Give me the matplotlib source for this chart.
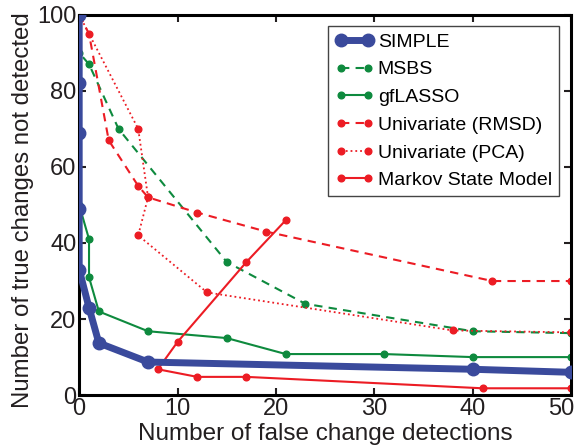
import matplotlib
matplotlib.use("Agg")
import matplotlib.pyplot as plt
import matplotlib.transforms as mtransforms

plt.rcParams['font.family'] = ['Liberation Sans', 'DejaVu Sans']

# Detection trade-off curves (x: false change detections, y: true changes missed)
simple_x = [0, 0, 0, 0, 0, 1, 2, 7, 40, 50]
simple_y = [100, 82, 69, 49, 33, 23, 13.7, 8.7, 6.8, 6.0]

msbs_x = [0, 0, 1, 4, 15, 23, 40, 50]
msbs_y = [100, 90, 87, 70, 35, 24, 16.8, 16.3]

gflasso_x = [0, 1, 1, 2, 7, 15, 21, 31, 40, 50]
gflasso_y = [50, 41, 31, 22, 16.8, 15, 10.8, 10.8, 10, 10]

rmsd_x = [0, 1, 3, 6, 7, 12, 19, 42, 50]
rmsd_y = [100, 95, 67, 55, 52, 48, 43, 30, 30]

pca_x = [0, 6, 7, 6, 13, 38, 50]
pca_y = [100, 70, 52, 42, 27, 17, 16.5]

msm_x = [21, 17, 10, 8, 12, 17, 41, 50]
msm_y = [46, 35, 14, 6.8, 4.8, 4.8, 1.8, 1.8]

x_ticks = [0, 10, 20, 30, 40, 50]
y_ticks = [0, 20, 40, 60, 80, 100]

blue = '#3a4a9c'
green = '#0e8a3e'
red = '#ec1c24'
text_col = '#231f20'

fig = plt.figure(figsize=(5.78, 4.48), dpi=100)
ax = fig.add_axes([0.137, 0.118, 0.851, 0.849])

ax.plot(simple_x, simple_y, '-o', color=blue, lw=5, ms=9, label='SIMPLE', zorder=5)
ax.plot(msbs_x, msbs_y, '--o', color=green, lw=1.5, ms=4.8, dashes=(4, 3), label='MSBS')
ax.plot(gflasso_x, gflasso_y, '-o', color=green, lw=1.5, ms=4.8, label='gfLASSO')
ax.plot(rmsd_x, rmsd_y, '--o', color=red, lw=1.5, ms=4.8, dashes=(4, 3), label='Univariate (RMSD)')
ax.plot(pca_x, pca_y, ':o', color=red, lw=1.3, ms=4.8, label='Univariate (PCA)')
ax.plot(msm_x, msm_y, '-o', color=red, lw=1.5, ms=4.8, label='Markov State Model')

ax.set_xlim(0, 50)
ax.set_ylim(0, 100)
ax.set_xticks(x_ticks)
ax.set_yticks(y_ticks)
ax.tick_params(direction='in', length=5, width=1.5, labelsize=17,
               top=True, right=True, pad=2, colors=text_col)
for s in ax.spines.values():
    s.set_linewidth(2.2)
    s.set_color('black')

# keep the last x tick label inside the figure
last = ax.get_xticklabels()[-1]
last.set_horizontalalignment('right')
last.set_transform(last.get_transform() +
                   mtransforms.ScaledTranslation(3 / 100, 0, fig.dpi_scale_trans))

ax.set_xlabel('Number of false change detections', fontsize=17.5, color=text_col, labelpad=2)
ax.set_ylabel('Number of true changes not detected', fontsize=17.3, color=text_col)
ax.yaxis.set_label_coords(-0.092, 0.486)

leg = ax.legend(loc='upper right', fontsize=14, numpoints=2, handlelength=2.0,
                handletextpad=0.2, borderpad=0.35, labelspacing=0.52,
                borderaxespad=0, fancybox=False, framealpha=1,
                bbox_to_anchor=(0.975, 0.97))
leg.get_frame().set_edgecolor('#444444')
leg.get_frame().set_linewidth(1.0)

fig.savefig('out.png', dpi=100)
